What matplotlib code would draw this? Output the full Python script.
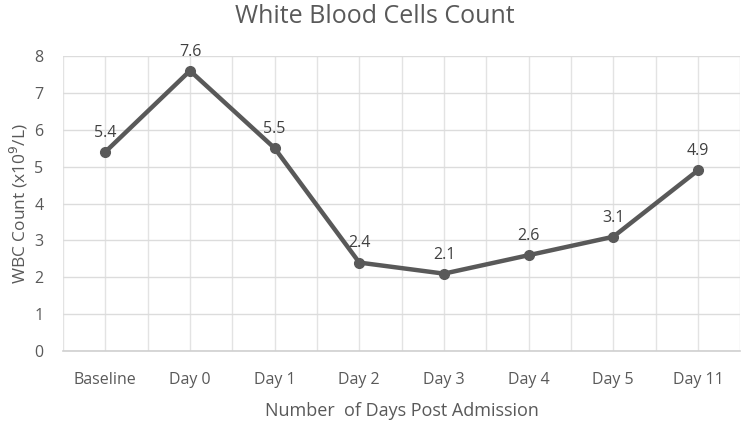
import matplotlib
matplotlib.use("Agg")
import matplotlib.pyplot as plt
from matplotlib.ticker import MultipleLocator

plt.rcParams["font.family"] = ["Open Sans", "DejaVu Sans"]

days = ["Baseline", "Day 0", "Day 1", "Day 2", "Day 3", "Day 4", "Day 5", "Day 11"]
wbc = [5.4, 7.6, 5.5, 2.4, 2.1, 2.6, 3.1, 4.9]

fig = plt.figure(figsize=(7.5, 4.21), dpi=100)
ax = fig.add_axes([0.084, 0.166, 0.903, 0.701])

x = list(range(len(days)))
ax.plot(x, wbc, color="#595959", lw=3.2, marker="o", ms=7, zorder=3)
for xi, v in zip(x, wbc):
    ax.annotate(f"{v:.1f}", (xi, v), xytext=(0, 8), textcoords="offset points",
                ha="center", va="bottom", fontsize=11.5, color="#404040")

ax.set_xlim(-0.5, len(days) - 0.5)
ax.set_ylim(0, 8)
ax.set_xticks(x)
ax.set_xticklabels(days)
ax.xaxis.set_minor_locator(MultipleLocator(1, offset=0.5))
ax.yaxis.set_major_locator(MultipleLocator(1))
ax.grid(True, which="both", axis="x", color="#e3e3e3", lw=1)
ax.grid(True, which="major", axis="y", color="#dcdcdc", lw=1)
ax.set_axisbelow(True)
for s in ("top", "right", "left"):
    ax.spines[s].set_visible(False)
ax.spines["bottom"].set_color("#d0d0d0")
ax.spines["bottom"].set_linewidth(1.2)
ax.tick_params(which="both", length=0, labelsize=11.5, labelcolor="#595959")
ax.tick_params(axis="x", pad=15)
ax.tick_params(axis="y", pad=14)

ax.set_xlabel("Number  of Days Post Admission", fontsize=13, color="#595959", labelpad=10)
ax.set_ylabel("WBC Count (x10$^9$/L)", fontsize=12.5, color="#595959", labelpad=3)
fig.text(0.5, 0.945, "White Blood Cells Count", ha="center", va="baseline",
         fontsize=18, color="#595959")

fig.savefig("out.png", dpi=100)
